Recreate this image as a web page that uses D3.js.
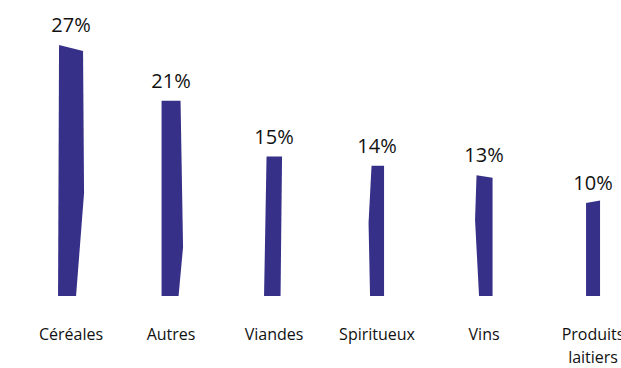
<!DOCTYPE html>
<html>
<head>
<meta charset="utf-8">
<script src="https://cdn.jsdelivr.net/npm/d3@7"></script>
<style>
  html, body { margin: 0; padding: 0; background: #fff; }
  svg { display: block; }
  text { font-family: "Open Sans", "Noto Sans", sans-serif; fill: #111; }
</style>
</head>
<body>
<script>
// Share of each category (%)
const categories = ["Céréales", "Autres", "Viandes", "Spiritueux", "Vins", "Produits laitiers"];
const shares = [27, 21, 15, 14, 13, 10];
const valueLabels = ["27%", "21%", "15%", "14%", "13%", "10%"];

// Hand-cut outline of each bar, in pixels around the bar centre:
// dx = nudge of the whole column, tl/tr = top corners, trDy = drop of the
// top-right corner, bl/br = bottom corners,
// bulge = optional side kink {side, x, at (fraction of height from top)}
const outlines = [
  { dx: 3.5, tl: -12, tr: 12, trDy: 6, bl: -13, br: 5, bulge: { side: "r", x: 13, at: 0.59 } },
  { dx: -0.8, tl: -9.5, tr: 9.5, trDy: 0, bl: -9.5, br: 7.5, bulge: { side: "r", x: 12, at: 0.75 } },
  { dx: -2.1, tl: -7.5, tr: 8, trDy: 0, bl: -10, br: 6.5, bulge: null },
  { dx: -3.4, tl: -5.5, tr: 7, trDy: 0, bl: -7, br: 7, bulge: { side: "l", x: -8.5, at: 0.44 } },
  { dx: -0.7, tl: -7.5, tr: 8.5, trDy: 2.5, bl: -5, br: 8.5, bulge: { side: "l", x: -9, at: 0.37 } },
  { dx: 4, tl: -7, tr: 7, trDy: -2.5, bl: -7, br: 7, bulge: null }
];

const W = 621, H = 368;
const baseline = 296;

const svg = d3.select("body").append("svg")
  .attr("width", W).attr("height", H);

const x = d3.scaleBand()
  .domain(categories)
  .range([15.4, 641.2])
  .padding(0);

const y = d3.scaleLinear()
  .domain([0, 27])
  .range([baseline, 45]);

const rows = categories.map((c, i) => ({ cat: c, v: shares[i], label: valueLabels[i], o: outlines[i] }));
const cx = d => x(d.cat) + x.bandwidth() / 2 + d.o.dx;

function outlinePath(d) {
  const c = cx(d), o = d.o, yt = y(d.v), yb = y(0), h = yb - yt;
  const pts = [[c + o.tl, yt], [c + o.tr, yt + o.trDy]];
  if (o.bulge && o.bulge.side === "r") pts.push([c + o.bulge.x, yt + h * o.bulge.at]);
  pts.push([c + o.br, yb], [c + o.bl, yb]);
  if (o.bulge && o.bulge.side === "l") pts.push([c + o.bulge.x, yt + h * o.bulge.at]);
  return "M" + pts.map(p => p.join(",")).join("L") + "Z";
}

svg.append("g").selectAll("path")
  .data(rows)
  .join("path")
  .attr("d", outlinePath)
  .attr("fill", "#363088");

// Value labels above the bars
svg.append("g").selectAll("text")
  .data(rows)
  .join("text")
  .attr("x", cx)
  .attr("y", d => y(d.v) - 13)
  .attr("text-anchor", "middle")
  .attr("font-size", 20)
  .text(d => d.label);

// Category axis labels (wrapped onto two lines where needed)
const axis = d3.axisBottom(x).tickSize(0).tickPadding(0);
const gAxis = svg.append("g")
  .attr("transform", `translate(0,${baseline})`)
  .call(axis);
gAxis.select(".domain").remove();
gAxis.selectAll(".tick text")
  .attr("font-size", 16)
  .attr("font-family", "\"Open Sans\", \"Noto Sans\", sans-serif")
  .attr("fill", "#111")
  .attr("y", 0)
  .attr("dy", null)
  .each(function(d, i) {
    const t = d3.select(this);
    const words = d.split(" ");
    t.text(null);
    words.forEach((w, k) => {
      t.append("tspan")
        .attr("x", outlines[i].dx)
        .attr("y", 44 + k * 23)
        .text(w);
    });
  });
</script>
</body>
</html>
